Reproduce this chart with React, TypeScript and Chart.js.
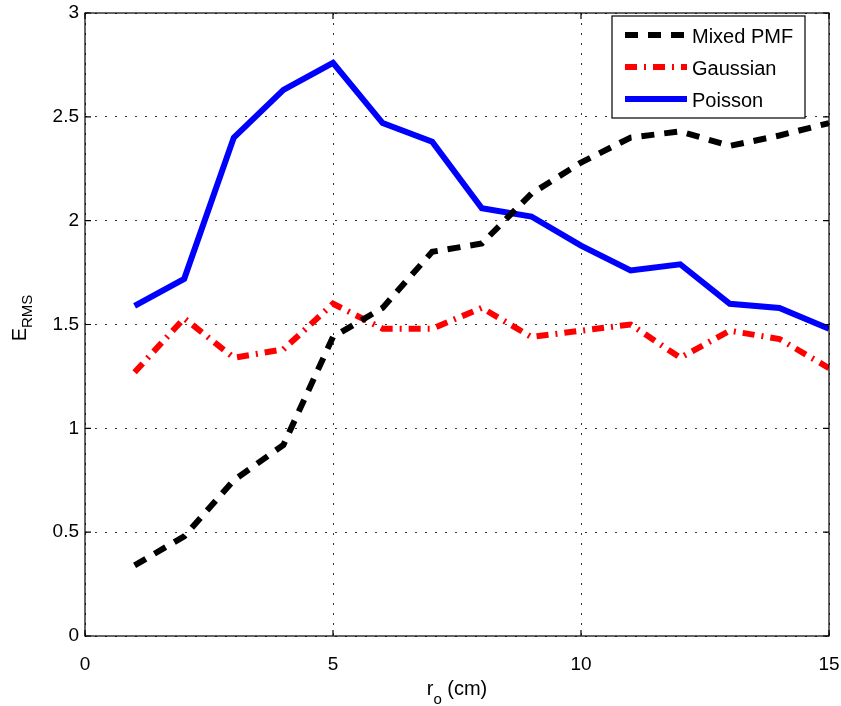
import React, { useEffect, useRef } from 'react';
import { Chart, registerables } from 'chart.js';

Chart.register(...registerables);

const rValues = [1, 2, 3, 4, 5, 6, 7, 8, 9, 10, 11, 12, 13, 14, 15];
const mixedPMF = [0.34, 0.48, 0.75, 0.92, 1.44, 1.58, 1.85, 1.89, 2.13, 2.28, 2.40, 2.43, 2.36, 2.41, 2.47];
const gaussian = [1.27, 1.53, 1.34, 1.38, 1.60, 1.48, 1.48, 1.58, 1.44, 1.47, 1.50, 1.34, 1.47, 1.43, 1.29];
const poisson = [1.59, 1.72, 2.40, 2.63, 2.76, 2.47, 2.38, 2.06, 2.02, 1.88, 1.76, 1.79, 1.60, 1.58, 1.48];
const seriesLabels = ['Mixed PMF', 'Gaussian', 'Poisson'];
const xTickValues = [0, 5, 10, 15];
const yTickValues = [0, 0.5, 1, 1.5, 2, 2.5, 3];

const FONT = '"Liberation Sans", Arial, Helvetica, sans-serif';

const framePlugin = {
  id: 'matlabFrame',
  afterDatasetsDraw(chart: any) {
    const { ctx, chartArea } = chart;
    const xs = chart.scales.x;
    const ys = chart.scales.y;
    const { left, right, top, bottom } = chartArea;
    ctx.save();
    ctx.strokeStyle = '#000';
    ctx.lineWidth = 1.2;
    ctx.setLineDash([]);
    ctx.strokeRect(left, top, right - left, bottom - top);
    const tl = 6;
    ctx.beginPath();
    xTickValues.forEach((v) => {
      const px = xs.getPixelForValue(v);
      ctx.moveTo(px, bottom);
      ctx.lineTo(px, bottom - tl);
      ctx.moveTo(px, top);
      ctx.lineTo(px, top + tl);
    });
    yTickValues.forEach((v) => {
      const py = ys.getPixelForValue(v);
      ctx.moveTo(left, py);
      ctx.lineTo(left + tl, py);
      ctx.moveTo(right, py);
      ctx.lineTo(right - tl, py);
    });
    ctx.stroke();
    ctx.restore();
  },
  afterDraw(chart: any) {
    const { ctx } = chart;
    ctx.save();
    ctx.fillStyle = '#000';
    // x-axis title: r_o (cm)
    ctx.textBaseline = 'alphabetic';
    ctx.textAlign = 'left';
    ctx.font = `20px ${FONT}`;
    const rW = ctx.measureText('r').width;
    ctx.font = `15px ${FONT}`;
    const oW = ctx.measureText('o').width;
    ctx.font = `20px ${FONT}`;
    const cmW = ctx.measureText(' (cm)').width;
    const total = rW + oW + cmW;
    const x0 = 457 - total / 2;
    const base = 695;
    ctx.fillText('r', x0, base);
    ctx.font = `15px ${FONT}`;
    ctx.fillText('o', x0 + rW, base + 9);
    ctx.font = `20px ${FONT}`;
    ctx.fillText(' (cm)', x0 + rW + oW, base);

    // y-axis title: E_RMS rotated
    ctx.translate(26, 318);
    ctx.rotate(-Math.PI / 2);
    ctx.font = `20px ${FONT}`;
    const eW = ctx.measureText('E').width;
    ctx.font = `15px ${FONT}`;
    const rmsW = ctx.measureText('RMS').width;
    const tot2 = eW + rmsW;
    ctx.font = `20px ${FONT}`;
    ctx.fillText('E', -tot2 / 2, 0);
    ctx.font = `15px ${FONT}`;
    ctx.fillText('RMS', -tot2 / 2 + eW, 6);
    ctx.restore();

    // legend
    ctx.save();
    const lx = 612, ly = 16, lw = 193, lh = 102;
    ctx.fillStyle = '#fff';
    ctx.fillRect(lx, ly, lw, lh);
    ctx.strokeStyle = '#000';
    ctx.lineWidth = 1.2;
    ctx.setLineDash([]);
    ctx.strokeRect(lx, ly, lw, lh);
    chart.data.datasets.forEach((ds: any, i: number) => {
      const y = 35 + i * 32;
      ctx.save();
      ctx.strokeStyle = ds.borderColor;
      ctx.lineWidth = ds.borderWidth;
      ctx.lineCap = 'butt';
      ctx.setLineDash(ds.borderDash || []);
      ctx.beginPath();
      ctx.moveTo(625, y);
      ctx.lineTo(687, y);
      ctx.stroke();
      ctx.restore();
      ctx.fillStyle = '#000';
      ctx.font = `20px ${FONT}`;
      ctx.textAlign = 'left';
      ctx.textBaseline = 'alphabetic';
      ctx.fillText(ds.label, 692, y + 8);
    });
    ctx.restore();
  },
};

export default function App() {
  const canvasRef = useRef<HTMLCanvasElement | null>(null);

  useEffect(() => {
    const canvas = canvasRef.current;
    if (!canvas) return;
    const mk = (vals: number[]) => rValues.map((x, i) => ({ x, y: vals[i] }));
    const chart = new Chart(canvas, {
      type: 'line',
      data: {
        datasets: [
          {
            label: seriesLabels[0],
            data: mk(mixedPMF),
            borderColor: '#000000',
            borderWidth: 6,
            borderDash: [13, 10],
            borderCapStyle: 'butt',
            borderJoinStyle: 'miter',
            pointRadius: 0,
            tension: 0,
            fill: false,
          },
          {
            label: seriesLabels[1],
            data: mk(gaussian),
            borderColor: '#ff0000',
            borderWidth: 6,
            borderDash: [12, 7, 2, 7],
            borderCapStyle: 'butt',
            borderJoinStyle: 'miter',
            pointRadius: 0,
            tension: 0,
            fill: false,
          },
          {
            label: seriesLabels[2],
            data: mk(poisson),
            borderColor: '#0000ff',
            borderWidth: 6,
            borderCapStyle: 'butt',
            borderJoinStyle: 'miter',
            pointRadius: 0,
            tension: 0,
            fill: false,
          },
        ],
      },
      options: {
        responsive: false,
        animation: false,
        events: [],
        layout: { padding: { top: 13, right: 12, left: 0, bottom: 0 } },
        plugins: {
          legend: { display: false },
          tooltip: { enabled: false },
          title: { display: false },
        },
        scales: {
          x: {
            type: 'linear',
            min: 0,
            max: 15,
            afterBuildTicks: (scale: any) => {
              scale.ticks = xTickValues.map((v) => ({ value: v }));
            },
            afterFit: (scale: any) => {
              scale.height = 70;
              scale.paddingLeft = 0;
              scale.paddingRight = 0;
            },
            ticks: {
              font: { family: FONT, size: 19 },
              color: '#000',
              padding: 17,
              maxRotation: 0,
              callback: (v: any) => String(v),
            },
            grid: {
              color: '#333',
              lineWidth: 1,
              drawTicks: false,
            },
            border: { display: false, dash: [2, 8] },
          },
          y: {
            type: 'linear',
            min: 0,
            max: 3,
            afterBuildTicks: (scale: any) => {
              scale.ticks = yTickValues.map((v) => ({ value: v }));
            },
            afterFit: (scale: any) => {
              scale.width = 85;
              scale.paddingTop = 0;
              scale.paddingBottom = 0;
            },
            ticks: {
              font: { family: FONT, size: 19 },
              color: '#000',
              padding: 6,
              callback: (v: any) => String(v),
            },
            grid: {
              color: '#333',
              lineWidth: 1,
              drawTicks: false,
            },
            border: { display: false, dash: [2, 8] },
          },
        },
      },
      plugins: [framePlugin],
    } as any);
    return () => chart.destroy();
  }, []);

  return (
    <div style={{ position: 'fixed', left: 0, top: 0, width: 841, height: 706, background: '#fff' }}>
      <canvas ref={canvasRef} width={841} height={706} style={{ display: 'block' }} />
    </div>
  );
}
